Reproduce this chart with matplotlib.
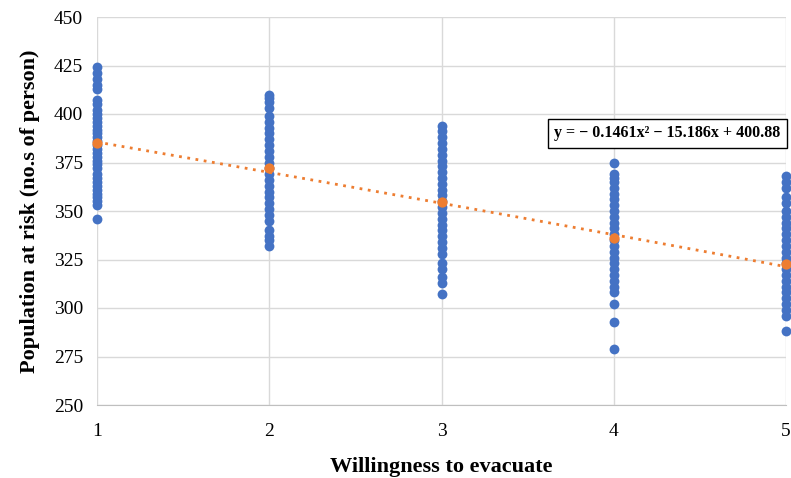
import numpy as np
import matplotlib
matplotlib.use("Agg")
import matplotlib.pyplot as plt

plt.rcParams['font.family'] = ['Liberation Serif', 'DejaVu Serif']

# Population at risk observed at each willingness level
willingness_levels = [1, 2, 3, 4, 5]
pop_w1 = [424, 421, 418, 415, 413, 407, 405, 402, 400, 398, 396, 394, 392, 390,
          388, 386, 384, 382, 380, 378, 376, 374, 372, 369, 367, 365, 363, 361,
          359, 357, 355, 353, 346]
pop_w2 = [410, 408, 406, 403, 399, 396, 393, 390, 387, 384, 381, 378, 375, 372,
          369, 366, 363, 360, 357, 354, 351, 348, 345, 340, 337, 335, 332]
pop_w3 = [394, 391, 388, 385, 382, 379, 376, 373, 370, 367, 364, 361, 358, 355,
          352, 349, 346, 343, 340, 337, 334, 331, 328, 323, 320, 316, 313, 307]
pop_w4 = [375, 369, 367, 365, 362, 359, 356, 353, 350, 347, 344, 341, 338, 335,
          332, 329, 326, 323, 320, 317, 314, 311, 308, 302, 293, 279]
pop_w5 = [368, 365, 362, 357, 354, 350, 347, 344, 341, 338, 335, 332, 329, 326,
          323, 320, 317, 314, 311, 308, 305, 302, 299, 296, 288]

# Mean population at each level
mean_pop = [384.8, 372.0, 354.5, 336.0, 322.5]

# Quadratic trendline coefficients
coef_a, coef_b, coef_c = -0.1461, -15.186, 400.88
equation_text = "y = − 0.1461x² − 15.186x + 400.88"

blue = "#4472C4"
orange = "#ED7D31"

fig = plt.figure(figsize=(7.91, 4.78), dpi=100)
ax = fig.add_axes([97 / 791, 73 / 478, 689 / 791, 388 / 478])

groups = [pop_w1, pop_w2, pop_w3, pop_w4, pop_w5]
for lvl, vals in zip(willingness_levels, groups):
    ax.scatter([lvl] * len(vals), vals, s=50, color=blue, zorder=3,
               linewidths=0, clip_on=False)

xs = np.linspace(1, 5, 200)
ax.plot(xs, coef_a * xs ** 2 + coef_b * xs + coef_c, linestyle=(0, (1, 2)),
        color=orange, linewidth=2.0, zorder=4)

ax.scatter(willingness_levels, mean_pop, s=55, color=orange, zorder=5,
           linewidths=0, clip_on=False)

ax.set_xlim(1, 5)
ax.set_ylim(250, 450)
ax.set_xticks(willingness_levels)
ax.set_yticks(np.arange(250, 451, 25))
ax.grid(True, color="#D9D9D9", linewidth=1.0, zorder=0)
ax.set_axisbelow(True)
for side in ["top", "right", "left"]:
    ax.spines[side].set_visible(False)
ax.spines["bottom"].set_color("#BFBFBF")
ax.tick_params(length=0, labelsize=14, pad=10)
ax.tick_params(axis="x", pad=13)

ax.set_xlabel("Willingness to evacuate", fontsize=16, fontweight="bold",
              labelpad=12)
ax.set_ylabel("Population at risk (no.s of person)", fontsize=16,
              fontweight="bold", labelpad=10)

ax.text(4.31, 390, equation_text, fontsize=11.5, fontweight="bold",
        ha="center", va="center", zorder=6,
        bbox=dict(boxstyle="square,pad=0.4", facecolor="white",
                  edgecolor="black", linewidth=1.0))

fig.savefig("out.png", dpi=100)
